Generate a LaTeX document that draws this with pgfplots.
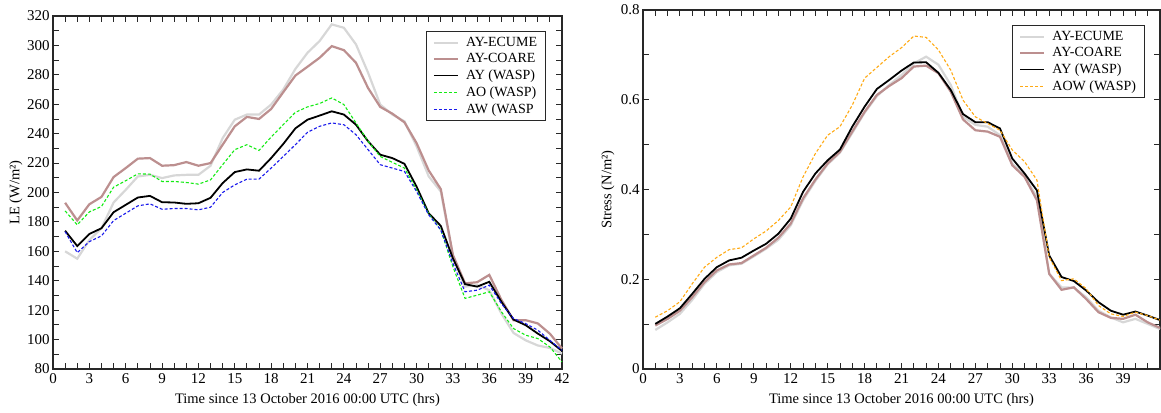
\documentclass[border=0pt]{standalone}
\usepackage{fontspec}
\setmainfont{Liberation Serif}
\usepackage{pgfplots}
\usepackage{pgfplotstable}
\pgfplotsset{compat=1.18}
\definecolor{ecume}{RGB}{215,215,215}
\definecolor{coare}{RGB}{188,143,143}
\definecolor{aogreen}{RGB}{20,235,20}
\definecolor{awblue}{RGB}{25,25,235}
\definecolor{aoworange}{RGB}{255,170,20}
\definecolor{axgray}{RGB}{40,40,40}
\newcommand{\legfont}{\fontsize{14}{16}\selectfont}

\pgfplotstableread{
x ecume coare ay ao aw
1 160 193 174 187.5 173.4
2 155 181 163.6 178 159.1
3 167.7 192 171.8 186.8 166.6
4 175.7 197 175.7 190.5 170.5
5 193.2 210.5 186.6 203.6 180.9
6 201.8 216.6 191.6 208 185.9
7 210.9 223 196.6 212.7 190.9
8 212 223.4 197.7 212.5 192.3
9 209.8 218.2 193.4 207.5 188.6
10 211.6 218.6 193.2 207.5 189.1
11 212 220.7 192.3 206.8 189.1
12 212 218.2 192.7 205.7 188.2
13 218.2 220 196.4 208.6 190
14 237 232.5 206.4 218.9 200
15 249.5 245 213.9 229.1 205.2
16 253 251.4 215.7 232.5 209.1
17 253 250 214.8 228.6 209.1
18 259.8 256.8 223.4 237.7 216.6
19 270 268.2 233 246.1 224.5
20 284 279.5 243.6 254.5 232.5
21 295 285.5 249.5 258.2 240.9
22 303 291.6 252.3 260.5 245
23 314.3 299.5 255.2 264.3 247.3
24 312 296.8 253 259.8 246.1
25 300.7 288.2 246.1 247.3 239.3
26 281.4 271 234.8 234.8 229.1
27 259.8 258.2 225.7 224.5 218.9
28 253 253.6 223.4 220.5 216.6
29 248.4 247.7 219.5 216.6 214.3
30 231.4 233.6 204 201.8 200.7
31 211 215 185.9 185.5 184.8
32 200.7 202.3 177.3 174.5 174.5
33 156.4 157.5 155.2 149.5 151.8
34 136 138.2 137.7 128 132.5
35 137 139 136 130.2 133.6
36 133.6 144 139.3 132.5 137
37 117.7 127 125.7 118.9 124.5
38 104.5 113.2 113.6 107.5 114.3
39 99.5 113.2 109.8 103 110.9
40 96 111 104.1 100.7 106.4
41 94.3 104 98.9 95 99.5
42 90.5 93.9 92.3 84.8 92.7
}\tableLE

\pgfplotstableread{
x ecume coare ay aow
1 0.087 0.0968 0.1005 0.1154
2 0.104 0.1117 0.117 0.130
3 0.123 0.130 0.1355 0.150
4 0.154 0.160 0.1675 0.190
5 0.190 0.1936 0.201 0.227
6 0.216 0.2197 0.227 0.249
7 0.231 0.233 0.242 0.266
8 0.2345 0.236 0.248 0.270
9 0.251 0.253 0.264 0.290
10 0.268 0.270 0.279 0.3075
11 0.288 0.2926 0.3016 0.331
12 0.320 0.324 0.335 0.361
13 0.376 0.380 0.3946 0.428
14 0.419 0.422 0.4356 0.480
15 0.456 0.458 0.465 0.521
16 0.482 0.484 0.489 0.540
17 0.526 0.529 0.540 0.588
18 0.571 0.573 0.5845 0.648
19 0.608 0.6106 0.624 0.672
20 0.633 0.6307 0.644 0.696
21 0.655 0.648 0.665 0.716
22 0.681 0.674 0.683 0.742
23 0.696 0.676 0.6835 0.739
24 0.678 0.659 0.660 0.711
25 0.633 0.618 0.6217 0.666
26 0.562 0.556 0.568 0.599
27 0.544 0.532 0.550 0.562
28 0.540 0.529 0.550 0.547
29 0.521 0.5175 0.536 0.532
30 0.458 0.454 0.469 0.488
31 0.430 0.428 0.4356 0.462
32 0.383 0.376 0.398 0.421
33 0.212 0.212 0.253 0.249
34 0.182 0.1765 0.205 0.197
35 0.181 0.182 0.196 0.201
36 0.160 0.156 0.175 0.179
37 0.130 0.1266 0.149 0.1415
38 0.115 0.114 0.130 0.123
39 0.104 0.1117 0.121 0.117
40 0.1117 0.121 0.128 0.1266
41 0.1005 0.104 0.119 0.119
42 0.089 0.0916 0.109 0.109
}\tableStress

\pgfplotsset{
  common/.style={
    scale only axis,
    anchor=south west,
    xmin=0, xmax=42,
    minor xtick={0,1,...,42},
    tick align=inside,
    major tick length=6pt,
    minor tick length=6pt,
    tick style={line width=0.9pt, color=axgray},
    axis line style={line width=1.3pt, color=axgray},
    /pgf/number format/assume math mode=true,
    tick label style={font=\fontsize{15}{17}\selectfont},
    yticklabel style={xshift=1.5pt},
    label style={font=\fontsize{14.5}{17}\selectfont},
    xlabel={Time since 13 October 2016 00:00 UTC (hrs)},
    xlabel style={at={([yshift=-31pt]axis description cs:0.5,0)}, anchor=center},
    legend style={draw=axgray, line width=0.9pt, font=\legfont,
      nodes={font=\legfont},
      anchor=north east, inner xsep=6.5pt, inner ysep=3.5pt, row sep=1pt, column sep=5pt},
    legend cell align=left,
    legend image code/.code={\draw[#1] plot coordinates {(0pt,0pt) (12pt,0pt) (24pt,0pt)};},
    clip=false,
  },
  ecumes/.style={color=ecume, line width=2.2pt},
  coares/.style={color=coare, line width=2.2pt},
  ays/.style={color=black, line width=1.8pt},
  dash1/.style={line width=1.1pt, dash pattern=on 3pt off 2pt},
}

\begin{document}
\fontsize{14}{16}\selectfont
\begin{tikzpicture}[x=1pt,y=1pt]
\useasboundingbox (0,0) rectangle (1161,412);
\begin{axis}[common,
  at={(53pt,43pt)}, width=509pt, height=353pt,
  ymin=80, ymax=320,
  xtick={0,3,...,42},
  ytick={80,100,...,320},
  minor ytick={90,110,...,310},
  ylabel={LE (W/m²)},
  ylabel style={at={([xshift=-37pt]axis description cs:0,0.5)}, anchor=center},
  legend style={at={([xshift=-16pt,yshift=-15pt]rel axis cs:1,1)}},
]
\addplot[ecumes] table[x=x,y=ecume]{\tableLE};
\addlegendentry{\legfont AY-ECUME}
\addplot[coares] table[x=x,y=coare]{\tableLE};
\addlegendentry{\legfont AY-COARE}
\addplot[ays] table[x=x,y=ay]{\tableLE};
\addlegendentry{\legfont AY (WASP)}
\addplot[dash1, color=aogreen] table[x=x,y=ao]{\tableLE};
\addlegendentry{\legfont AO (WASP)}
\addplot[dash1, color=awblue] table[x=x,y=aw]{\tableLE};
\addlegendentry{\legfont AW (WASP}
\end{axis}
\begin{axis}[common,
  at={(643pt,43pt)}, width=517pt, height=359pt,
  ymin=0, ymax=0.8,
  xtick={0,3,...,39},
  ytick={0,0.2,0.4,0.6,0.8},
  yticklabels={0,0.2,0.4,0.6,0.8},
  minor ytick={0.1,0.3,0.5,0.7},
  ylabel={Stress (N/m²)},
  ylabel style={at={([xshift=-35pt]axis description cs:0,0.5)}, anchor=center},
  legend style={at={([xshift=-15pt,yshift=-15pt]rel axis cs:1,1)}},
]
\addplot[ecumes] table[x=x,y=ecume]{\tableStress};
\addlegendentry{\legfont AY-ECUME}
\addplot[coares] table[x=x,y=coare]{\tableStress};
\addlegendentry{\legfont AY-COARE}
\addplot[ays] table[x=x,y=ay]{\tableStress};
\addlegendentry{\legfont AY (WASP)}
\addplot[dash1, color=aoworange] table[x=x,y=aow]{\tableStress};
\addlegendentry{\legfont AOW (WASP)}
\end{axis}
\end{tikzpicture}
\end{document}
